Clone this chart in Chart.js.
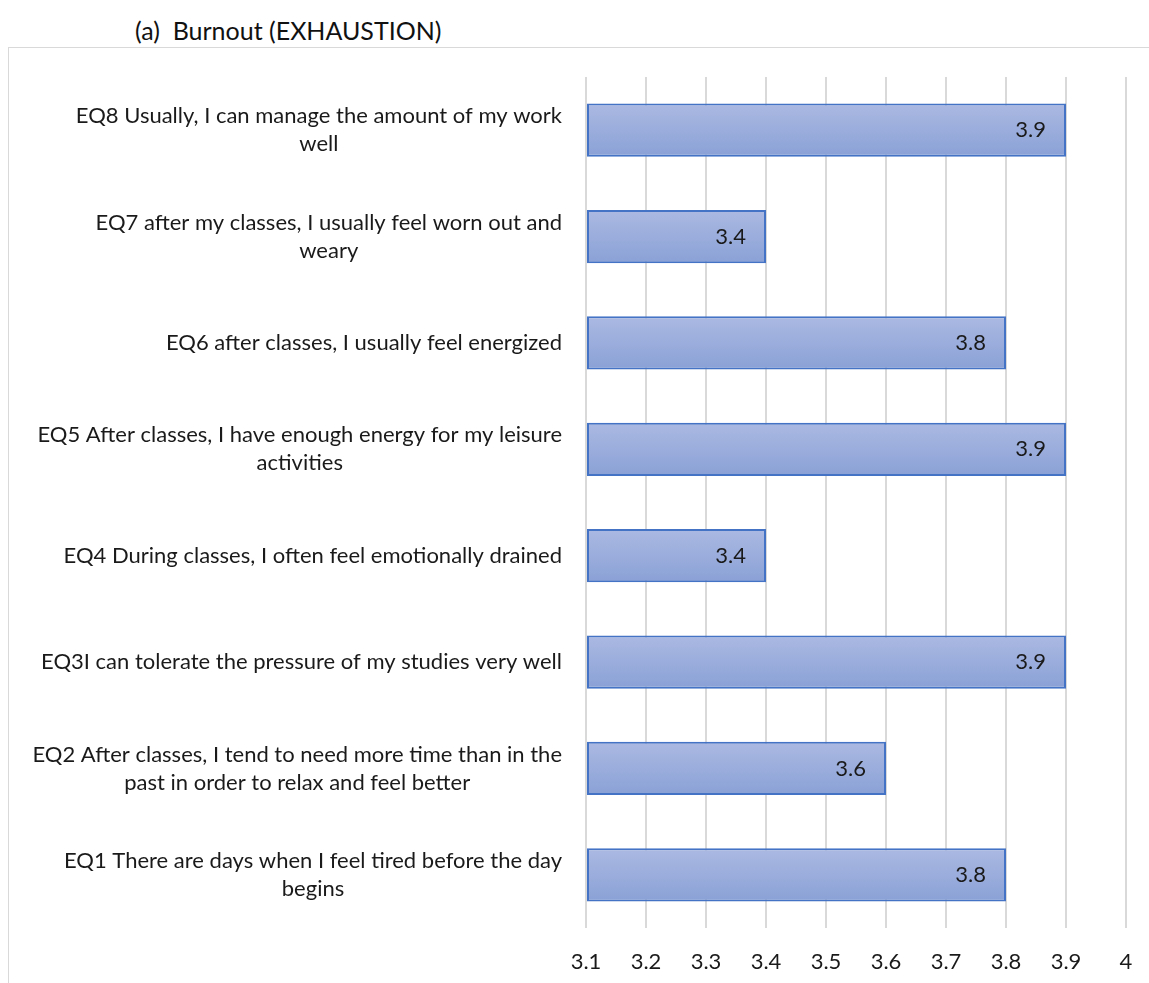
<!DOCTYPE html>
<html>
<head>
<meta charset="utf-8">
<script src="https://cdn.jsdelivr.net/npm/chart.js@4/dist/chart.umd.min.js"></script>
<style>
  html, body { margin: 0; padding: 0; background: #fff; }
  #wrap { position: relative; width: 1149px; height: 983px; overflow: hidden; }
  #frame { position: absolute; left: 8px; top: 47px; width: 1300px; height: 1100px;
           border-left: 1.5px solid #d9d9d9; border-top: 1.5px solid #d9d9d9; }
  #title { position: absolute; left: 135px; top: 14px; font: 25px Lato, sans-serif;
           color: #111; white-space: pre; line-height: 32px; }
  #chart { position: absolute; left: 0; top: 0; }
</style>
</head>
<body>
<div id="wrap">
  <div id="frame"></div>
  <div id="title">(a)  Burnout (EXHAUSTION)</div>
  <canvas id="chart" width="1149" height="983"></canvas>
</div>
<script>
// Survey items, listed top to bottom
const categories = [
  ['EQ8 Usually, I can manage the amount of my work', 'well'],
  ['EQ7 after my classes, I usually feel worn out and', 'weary'],
  ['EQ6 after classes, I usually feel energized'],
  ['EQ5 After classes, I have enough energy for my leisure', 'activities'],
  ['EQ4 During classes, I often feel emotionally drained'],
  ['EQ3I can tolerate the pressure of my studies very well'],
  ['EQ2 After classes, I tend to need more time than in the', 'past in order to relax and feel better'],
  ['EQ1 There are days when I feel tired before the day', 'begins']
];
// Mean scores per item
const scores = [3.9, 3.4, 3.8, 3.9, 3.4, 3.9, 3.6, 3.8];
// Value axis
const tickLabels = ['3.1', '3.2', '3.3', '3.4', '3.5', '3.6', '3.7', '3.8', '3.9', '4'];
const axisMin = 3.1;
const axisMax = 4.0;
const axisStep = 0.1;

const FONT = 'Lato, sans-serif';
const FONT_SIZE = 22;
const TEXT = '#1a1a1a';
const LINE_H = 28;
const LABEL_GAP = 24;
const BAR_SHARE = 0.5;

// Item labels: multi-line blocks, lines centred on each other, block right-aligned to the axis
const itemLabels = {
  id: 'itemLabels',
  afterDraw(chart) {
    const { ctx, chartArea } = chart;
    const y = chart.scales.y;
    ctx.save();
    ctx.font = FONT_SIZE + 'px ' + FONT;
    ctx.fillStyle = TEXT;
    ctx.textAlign = 'center';
    ctx.textBaseline = 'middle';
    categories.forEach((lines, i) => {
      const cy = y.getPixelForTick(i);
      const w = Math.max(...lines.map(l => ctx.measureText(l).width));
      const cx = chartArea.left - LABEL_GAP - w / 2;
      lines.forEach((l, j) => {
        ctx.fillText(l, cx, cy + (j - (lines.length - 1) / 2) * LINE_H);
      });
    });
    ctx.restore();
  }
};

// Value label just inside the end of each bar
const valueLabels = {
  id: 'valueLabels',
  afterDatasetsDraw(chart) {
    const { ctx } = chart;
    ctx.save();
    ctx.font = FONT_SIZE + 'px ' + FONT;
    ctx.fillStyle = TEXT;
    ctx.textAlign = 'right';
    ctx.textBaseline = 'middle';
    chart.getDatasetMeta(0).data.forEach((bar, i) => {
      ctx.fillText(String(scores[i]), bar.x - 20, bar.y);
    });
    ctx.restore();
  }
};

// Top-to-bottom gradient for each bar, placed from the category scale
function barFill(c) {
  const chart = c.chart;
  const y = chart.scales.y;
  if (c.type !== 'data' || !y || !y.height) return '#9aadde';
  const half = (y.height / categories.length) * BAR_SHARE / 2;
  const cy = y.getPixelForValue(c.dataIndex);
  const g = chart.ctx.createLinearGradient(0, cy - half, 0, cy + half);
  g.addColorStop(0, '#abb9e2');
  g.addColorStop(1, '#8aa1d6');
  return g;
}

new Chart(document.getElementById('chart'), {
  type: 'bar',
  data: {
    labels: categories,
    datasets: [{
      data: scores,
      base: axisMin,
      backgroundColor: barFill,
      borderColor: '#4472c4',
      borderWidth: 2,
      borderSkipped: false,
      categoryPercentage: 1,
      barPercentage: BAR_SHARE,
      clip: false
    }]
  },
  options: {
    indexAxis: 'y',
    responsive: false,
    animation: false,
    devicePixelRatio: 1,
    layout: { padding: { top: 77, right: 23, bottom: 0, left: 0 } },
    plugins: { legend: { display: false }, tooltip: { enabled: false } },
    scales: {
      x: {
        min: axisMin,
        max: axisMax,
        ticks: {
          stepSize: axisStep,
          font: { family: FONT, size: FONT_SIZE },
          color: TEXT,
          padding: 21,
          maxRotation: 0,
          callback: (v, i) => tickLabels[i]
        },
        grid: { color: '#d9d9d9', lineWidth: 2, drawTicks: false },
        border: { display: false },
        afterFit: s => { s.height = 55; s.paddingLeft = 0; s.paddingRight = 0; }
      },
      y: {
        ticks: { display: false },
        grid: { display: false },
        border: { display: false },
        afterFit: s => { s.width = 586; }
      }
    }
  },
  plugins: [itemLabels, valueLabels]
});
</script>
</body>
</html>
